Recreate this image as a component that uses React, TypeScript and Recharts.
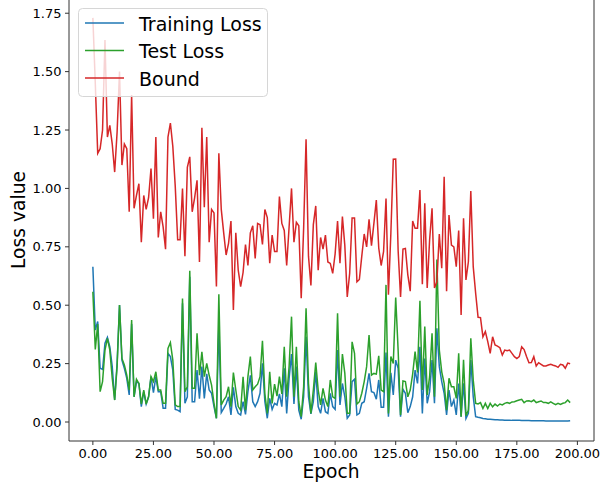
import React from 'react';
import { LineChart, Line, XAxis, YAxis, ReferenceLine } from 'recharts';

// Per-epoch values (epochs 0..197)
const trainingLoss = [
  0.665, 0.394, 0.43, 0.23, 0.225, 0.337, 0.362, 0.322, 0.237, 0.094,
  0.251, 0.501, 0.265, 0.23, 0.187, 0.116, 0.42, 0.108, 0.173, 0.165,
  0.066, 0.13, 0.077, 0.108, 0.194, 0.126, 0.194, 0.13, 0.13, 0.059,
  0.059, 0.294, 0.28, 0.222, 0.054, 0.051, 0.044, 0.508, 0.08, 0.108,
  0.622, 0.087, 0.087, 0.222, 0.1, 0.237, 0.101, 0.206, 0.137, 0.123,
  0.066, 0.016, 0.415, 0.04, 0.058, 0.077, 0.108, 0.03, 0.148, 0.066,
  0.037, 0.03, 0.087, 0.033, 0.13, 0.2, 0.087, 0.066, 0.087, 0.123,
  0.251, 0.087, 0.016, 0.101, 0.054, 0.08, 0.073, 0.12, 0.066, 0.23,
  0.037, 0.187, 0.291, 0.077, 0.237, 0.051, 0.012, 0.108, 0.365, 0.108,
  0.035, 0.087, 0.215, 0.066, 0.037, 0.101, 0.044, 0.037, 0.123, 0.066,
  0.054, 0.308, 0.073, 0.165, 0.108, 0.016, 0.03, 0.173, 0.183, 0.03,
  0.037, 0.08, 0.087, 0.144, 0.208, 0.13, 0.126, 0.098, 0.18, 0.063,
  0.063, 0.297, 0.023, 0.211, 0.116, 0.265, 0.23, 0.023, 0.14, 0.123,
  0.04, 0.066, 0.108, 0.222, 0.165, 0.322, 0.037, 0.272, 0.08, 0.13,
  0.265, 0.08, 0.401, 0.237, 0.173, 0.123, 0.03, 0.137, 0.066, 0.094,
  0.03, 0.165, 0.023, 0.166, 0.015, 0.037, 0.265, 0.108, 0.023, 0.02,
  0.018, 0.015, 0.014, 0.012, 0.012, 0.011, 0.01, 0.01, 0.009, 0.009,
  0.008, 0.008, 0.008, 0.007, 0.007, 0.007, 0.007, 0.006, 0.006, 0.006,
  0.006, 0.005, 0.005, 0.005, 0.005, 0.005, 0.005, 0.004, 0.004, 0.004,
  0.004, 0.004, 0.004, 0.004, 0.004, 0.004, 0.004, 0.005,
];

const testLoss = [
  0.558, 0.311, 0.419, 0.13, 0.173, 0.308, 0.358, 0.308, 0.187, 0.094,
  0.237, 0.501, 0.272, 0.244, 0.201, 0.137, 0.437, 0.108, 0.183, 0.165,
  0.077, 0.137, 0.077, 0.108, 0.194, 0.173, 0.215, 0.137, 0.137, 0.08,
  0.08, 0.315, 0.34, 0.265, 0.073, 0.066, 0.066, 0.529, 0.13, 0.151,
  0.648, 0.144, 0.144, 0.38, 0.2, 0.3, 0.194, 0.251, 0.2, 0.158,
  0.08, 0.016, 0.547, 0.073, 0.094, 0.108, 0.151, 0.066, 0.212, 0.137,
  0.066, 0.051, 0.194, 0.051, 0.194, 0.28, 0.137, 0.151, 0.162, 0.194,
  0.348, 0.12, 0.037, 0.215, 0.08, 0.162, 0.111, 0.194, 0.12, 0.322,
  0.108, 0.237, 0.451, 0.108, 0.322, 0.087, 0.023, 0.151, 0.487, 0.165,
  0.037, 0.137, 0.254, 0.137, 0.073, 0.144, 0.094, 0.066, 0.18, 0.108,
  0.101, 0.465, 0.108, 0.291, 0.208, 0.037, 0.037, 0.343, 0.294, 0.077,
  0.087, 0.123, 0.173, 0.237, 0.372, 0.201, 0.208, 0.205, 0.283, 0.137,
  0.13, 0.587, 0.037, 0.28, 0.251, 0.533, 0.308, 0.03, 0.176, 0.173,
  0.108, 0.137, 0.205, 0.301, 0.212, 0.519, 0.137, 0.409, 0.116, 0.194,
  0.38, 0.108, 0.696, 0.308, 0.215, 0.165, 0.051, 0.187, 0.151, 0.151,
  0.101, 0.294, 0.023, 0.266, 0.027, 0.05, 0.358, 0.18, 0.08, 0.077,
  0.083, 0.058, 0.08, 0.058, 0.08, 0.065, 0.077, 0.068, 0.077, 0.073,
  0.08, 0.083, 0.08, 0.086, 0.087, 0.091, 0.094, 0.097, 0.083, 0.09,
  0.091, 0.087, 0.094, 0.083, 0.087, 0.09, 0.083, 0.083, 0.08, 0.086,
  0.08, 0.074, 0.08, 0.075, 0.08, 0.083, 0.094, 0.083,
];

const bound = [
  1.73, 1.45, 1.15, 1.17, 1.25, 1.635, 1.22, 1.27, 1.19, 1.07,
  1.24, 1.5, 1.1, 1.19, 1.17, 0.9, 1.4, 0.915, 0.97, 1.02,
  0.77, 0.97, 0.91, 0.96, 1.085, 0.87, 1.22, 0.79, 0.9, 0.835,
  0.74, 1.22, 1.28, 1.18, 1.01, 0.78, 0.78, 1.0, 0.71, 1.09,
  1.135, 0.9, 0.96, 1.035, 0.685, 1.26, 0.92, 1.22, 0.77, 0.91,
  0.895, 0.58, 1.15, 0.91, 0.81, 0.715, 0.765, 0.86, 0.48, 0.81,
  0.65, 0.58, 0.64, 0.76, 0.67, 0.81, 0.84, 0.7, 0.85, 0.845,
  0.76, 0.91, 0.875, 0.68, 0.8, 0.73, 0.73, 0.965, 0.85, 0.82,
  0.67, 0.835, 1.0, 0.77, 0.855, 0.84, 0.53, 0.83, 1.21, 0.71,
  0.585, 0.845, 0.925, 0.65, 0.79, 0.74, 0.8, 0.685, 0.679, 0.636,
  0.72, 0.86, 0.68, 0.88, 0.755, 0.535, 0.636, 0.873, 0.873, 0.6,
  0.61, 0.71, 0.805, 0.75, 0.868, 0.755, 0.85, 0.95, 0.745, 0.67,
  0.73, 0.957, 0.545, 0.807, 1.125, 1.126, 0.735, 0.535, 0.74, 0.743,
  0.63, 0.56, 0.86, 0.83, 0.83, 0.993, 0.59, 0.936, 0.574, 0.78,
  0.915, 0.574, 0.6, 0.805, 0.658, 1.05, 0.56, 0.886, 0.757, 0.75,
  0.665, 0.82, 0.458, 0.872, 0.608, 0.686, 0.989, 0.665, 0.551, 0.448,
  0.447, 0.365, 0.387, 0.344, 0.294, 0.365, 0.33, 0.325, 0.318, 0.287,
  0.308, 0.305, 0.308, 0.294, 0.28, 0.272, 0.28, 0.322, 0.31, 0.28,
  0.254, 0.255, 0.28, 0.24, 0.254, 0.247, 0.24, 0.24, 0.244, 0.247,
  0.243, 0.24, 0.234, 0.247, 0.244, 0.23, 0.252, 0.249,
];

const xTicks = [0, 25, 50, 75, 100, 125, 150, 175, 200];
const yTicks = [0, 0.25, 0.5, 0.75, 1.0, 1.25, 1.5, 1.75];

const series = [
  { key: 'train', name: 'Training Loss', color: '#1f77b4' },
  { key: 'test', name: 'Test Loss', color: '#2ca02c' },
  { key: 'bound', name: 'Bound', color: '#d62728' },
];

const data = bound.map((b, i) => ({
  epoch: i,
  train: trainingLoss[i],
  test: testLoss[i],
  bound: b,
}));

const FONT = '"DejaVu Sans", sans-serif';
const X_MIN = -9.85;
const X_MAX = 206.85;

const LegendBox = () => (
  <svg width={191} height={90} style={{ position: 'absolute', left: 78, top: 8 }}>
    <rect x={0.5} y={0.5} width={189} height={88} rx={4} fill="#fff" fillOpacity={0.8} stroke="#d6d6d6" />
    {series.map((s, i) => (
      <g key={s.key}>
        <line x1={7} x2={46} y1={15 + i * 27.5} y2={15 + i * 27.5} stroke={s.color} strokeWidth={1.5} />
        <text x={61} y={22.5 + i * 27.5} fontSize={19} fontFamily={FONT} fill="#000">
          {s.name}
        </text>
      </g>
    ))}
  </svg>
);

export default function App() {
  return (
    <div style={{ position: 'absolute', left: 0, top: 0, width: 600, height: 488, background: '#fff' }}>
      <LineChart width={600} height={488} data={data} margin={{ top: 0, right: 6, bottom: 0, left: 0 }}>
        <XAxis
          dataKey="epoch"
          type="number"
          domain={[X_MIN, X_MAX]}
          allowDataOverflow
          ticks={xTicks}
          tickFormatter={(v: number) => v.toFixed(2)}
          height={47}
          tickSize={4}
          tickMargin={4}
          stroke="#333"
          tick={{ fill: '#000', fontSize: 13, fontFamily: FONT }}
          label={{
            content: () => (
              <text x={331} y={478} textAnchor="middle" fontSize={18.7} fontFamily={FONT} fill="#000">
                Epoch
              </text>
            ),
          }}
        />
        <YAxis
          type="number"
          domain={[-0.0813, 1.8066]}
          allowDataOverflow
          ticks={yTicks}
          tickFormatter={(v: number) => v.toFixed(2)}
          width={69}
          tickSize={4}
          tickMargin={3.5}
          stroke="#333"
          tick={{ fill: '#000', fontSize: 13, fontFamily: FONT }}
          label={{
            content: () => (
              <text
                x={25}
                y={220}
                transform="rotate(-90, 25, 220)"
                textAnchor="middle"
                fontSize={18.7}
                fontFamily={FONT}
                fill="#000"
              >
                Loss value
              </text>
            ),
          }}
        />
        <ReferenceLine x={X_MAX} stroke="#333" strokeWidth={1} />
        {series.map(s => (
          <Line
            key={s.key}
            type="linear"
            dataKey={s.key}
            name={s.name}
            stroke={s.color}
            strokeWidth={1.5}
            dot={false}
            activeDot={false}
            isAnimationActive={false}
          />
        ))}
      </LineChart>
      <LegendBox />
    </div>
  );
}
